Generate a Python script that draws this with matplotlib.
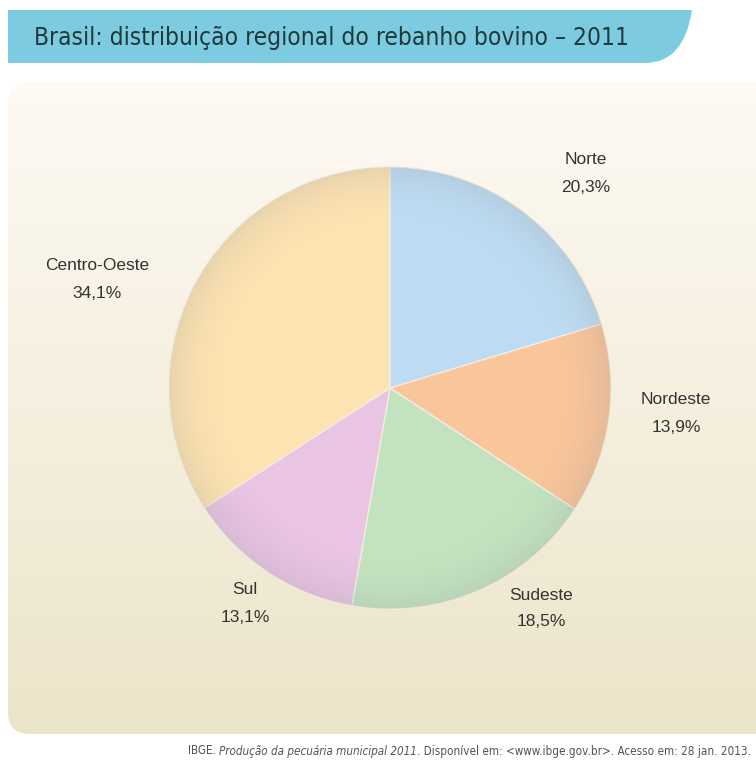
import matplotlib
matplotlib.use("Agg")
import matplotlib.pyplot as plt
from matplotlib.patches import FancyBboxPatch, Circle, PathPatch
from matplotlib.path import Path
import numpy as np

plt.rcParams['font.family'] = ['Liberation Sans', 'DejaVu Sans']

# data
regions = ["Norte", "Nordeste", "Sudeste", "Sul", "Centro-Oeste"]
shares = [20.3, 13.9, 18.5, 13.1, 34.1]
share_labels = ["20,3%", "13,9%", "18,5%", "13,1%", "34,1%"]
colors = ["#bddcf3", "#f9c59b", "#c3e3c0", "#e9c4e3", "#fde3b2"]

title = "Brasil: distribuição regional do rebanho bovino – 2011"
source_parts = [("IBGE. ", "normal"),
                ("Produção da pecuária municipal 2011", "italic"),
                (". Disponível em: <www.ibge.gov.br>. Acesso em: 28 jan. 2013.", "normal")]

W, H = 756, 761
fig = plt.figure(figsize=(W / 100, H / 100), dpi=100)
fig.patch.set_facecolor("white")

# background axes in pixel coords
bg = fig.add_axes([0, 0, 1, 1])
bg.set_xlim(0, W)
bg.set_ylim(H, 0)
bg.axis("off")

# beige panel with vertical gradient
panel = FancyBboxPatch((8, 82), W + 40, 652, boxstyle="round,pad=0,rounding_size=22",
                       facecolor="none", edgecolor="none")
bg.add_patch(panel)
top = np.array([0.995, 0.98, 0.955])
bot = np.array([0.925, 0.895, 0.79])
t = np.linspace(0, 1, 256)[:, None]
grad = (top * (1 - t) + bot * t)[:, None, :]
im = bg.imshow(grad, extent=(8, W, 734, 82), aspect="auto", zorder=0)
im.set_clip_path(panel)

# title banner with curved right edge
verts = [(8, 10), (692, 10), (684, 63), (645, 63), (8, 63), (8, 10)]
codes = [Path.MOVETO, Path.LINETO, Path.CURVE3, Path.CURVE3, Path.LINETO, Path.CLOSEPOLY]
bg.add_patch(PathPatch(Path(verts, codes), facecolor="#7ccbe0", edgecolor="none", zorder=1))
bg.text(34, 38, title, fontsize=17.6, color="#1f3a3a", va="center", ha="left",
        family="DejaVu Sans", fontstretch="condensed", zorder=2)

# source line
fig.canvas.draw()
r = fig.canvas.get_renderer()
x = 188
for txt, style in source_parts:
    tt = bg.text(x, 751, txt, fontsize=8.4, style=style, color="#555555",
                 va="center", ha="left", family="DejaVu Sans", fontstretch="condensed")
    bb = tt.get_window_extent(renderer=r)
    x += bb.width

# pie
cx, cy, rad = 390, 388, 221
pax = fig.add_axes([(cx - rad) / W, (H - cy - rad) / H, 2 * rad / W, 2 * rad / H])
wedges, _ = pax.pie(shares, colors=colors, startangle=90, counterclock=False,
                    wedgeprops=dict(edgecolor="#f3ece0", linewidth=1.0))
pax.set_aspect("equal")
pax.set_xlim(-1, 1)
pax.set_ylim(-1, 1)

# soft shading near the rim
n = 400
yy, xx = np.mgrid[-1:1:n * 1j, -1:1:n * 1j]
rr = np.sqrt(xx ** 2 + yy ** 2)
shade = np.zeros((n, n, 4))
shade[..., :3] = 0.55
shade[..., 3] = np.clip((rr - 0.75) / 0.25, 0, 1) ** 2 * 0.18
sim = pax.imshow(shade, extent=(-1, 1, -1, 1), zorder=5, interpolation="bilinear")
sim.set_clip_path(Circle((0, 0), 1.0, transform=pax.transData))

# labels in pixel coords
label_pos = [(586, 160), (676, 400), (541, 595), (245, 590), (97, 266)]
for name, pct, (lx, ly) in zip(regions, share_labels, label_pos):
    bg.text(lx, ly, name, fontsize=12.5, color="#333333", ha="center", va="center", zorder=6)
    bg.text(lx, ly + 27, pct, fontsize=12.5, color="#333333", ha="center", va="center", zorder=6)

fig.savefig("out.png", dpi=100)
